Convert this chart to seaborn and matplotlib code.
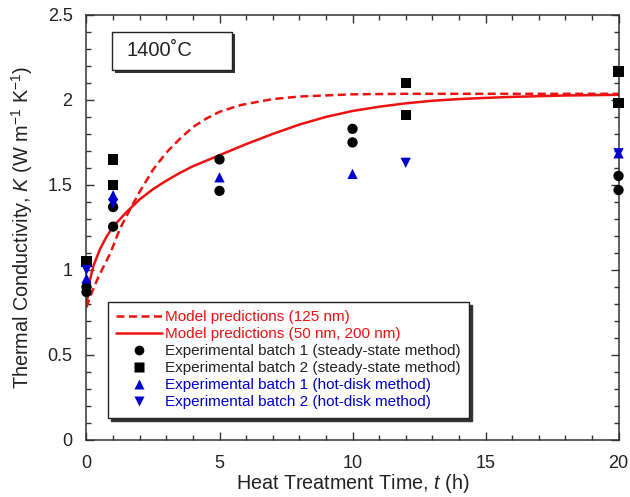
import numpy as np
import pandas as pd
import matplotlib
matplotlib.use("Agg")
import matplotlib.pyplot as plt
from matplotlib.lines import Line2D
from matplotlib.patches import Rectangle
from matplotlib.ticker import MultipleLocator
import seaborn as sns

# Model predictions
t_model_125 = [0, 0.15, 0.45, 0.9, 1.25, 1.65, 2.0, 2.5, 3.0, 3.5, 4.0, 4.5, 5.0, 5.8, 7, 8, 10, 12, 15, 20]
k_model_125 = [0.78, 0.85, 0.96, 1.10, 1.24, 1.36, 1.46, 1.59, 1.69, 1.77, 1.84, 1.89, 1.93, 1.97, 2.005, 2.02,
               2.033, 2.036, 2.036, 2.036]

t_model_50_200 = [0, 0.1, 0.25, 0.5, 0.75, 1, 1.5, 2, 2.5, 3, 3.5, 4, 5, 6, 7, 8, 9, 10, 11, 12, 13, 14, 15,
                  16, 17, 18, 19, 20]
k_model_50_200 = [0.79, 0.92, 1.02, 1.12, 1.195, 1.255, 1.34, 1.415, 1.475, 1.525, 1.57, 1.61, 1.675, 1.74, 1.80,
                  1.855, 1.90, 1.935, 1.96, 1.98, 1.995, 2.005, 2.012, 2.018, 2.022, 2.026, 2.028, 2.03]

# Experimental data
t_b1_ss = [0, 0, 1, 1, 5, 5, 10, 10, 20, 20]
k_b1_ss = [0.90, 0.87, 1.37, 1.255, 1.65, 1.465, 1.83, 1.75, 1.553, 1.47]

t_b2_ss = [0, 1, 1, 12, 12, 20, 20]
k_b2_ss = [1.049, 1.65, 1.50, 2.10, 1.91, 2.167, 1.98]

t_b1_hd = [0, 1, 5, 10, 20]
k_b1_hd = [0.95, 1.44, 1.545, 1.565, 1.686]

t_b2_hd = [0, 1, 12, 20]
k_b2_hd = [1.0, 1.39, 1.63, 1.686]

labels = [
    "Model predictions (125 nm)",
    "Model predictions (50 nm, 200 nm)",
    "Experimental batch 1 (steady-state method)",
    "Experimental batch 2 (steady-state method)",
    "Experimental batch 1 (hot-disk method)",
    "Experimental batch 2 (hot-disk method)",
]

RED = "#ee1111"
BLUE = "#0000cc"
BLACK = "#000000"
INK = "#222222"

sns.set_style("ticks")
plt.rcParams["font.family"] = ["Liberation Sans", "DejaVu Sans"]
plt.rcParams["mathtext.fontset"] = "custom"
plt.rcParams["mathtext.rm"] = "Liberation Sans"
plt.rcParams["mathtext.it"] = "Liberation Sans:italic"

fig = plt.figure(figsize=(6.3, 4.97), dpi=100)
ax = fig.add_axes([0.1373, 0.1147, 0.8445, 0.8553])

df125 = pd.DataFrame({"t": t_model_125, "k": k_model_125})
df50 = pd.DataFrame({"t": t_model_50_200, "k": k_model_50_200})
dash = (0, (3.2, 1.8))
sns.lineplot(data=df125, x="t", y="k", ax=ax, color=RED, lw=1.8, linestyle=dash, sort=False)
sns.lineplot(data=df50, x="t", y="k", ax=ax, color=RED, lw=1.8, sort=False)

ms = 55
sns.scatterplot(x=t_b2_ss, y=k_b2_ss, ax=ax, marker="s", color=BLACK, s=ms, edgecolor="none", zorder=3, clip_on=False)
sns.scatterplot(x=t_b1_ss, y=k_b1_ss, ax=ax, marker="o", color=BLACK, s=ms, edgecolor="none", zorder=3, clip_on=False)
sns.scatterplot(x=t_b1_hd, y=k_b1_hd, ax=ax, marker="^", color=BLUE, s=ms, edgecolor="none", zorder=4, clip_on=False)
sns.scatterplot(x=t_b2_hd, y=k_b2_hd, ax=ax, marker="v", color=BLUE, s=ms, edgecolor="none", zorder=4, clip_on=False)

ax.set_xlim(0, 20)
ax.set_ylim(0, 2.5)
ax.xaxis.set_major_locator(MultipleLocator(5))
ax.xaxis.set_minor_locator(MultipleLocator(1))
ax.yaxis.set_minor_locator(MultipleLocator(0.1))
ax.set_yticks([0, 0.5, 1, 1.5, 2, 2.5])
ax.set_yticklabels(["0", "0.5", "1", "1.5", "2", "2.5"])
ax.tick_params(which="both", direction="in", top=True, right=True, colors="#333333",
               labelcolor=INK, labelsize=13)
ax.tick_params(which="major", length=6, width=1)
ax.tick_params(which="minor", length=3.5, width=1)
ax.tick_params(axis="x", pad=11)
ax.tick_params(axis="y", pad=10)
for sp in ax.spines.values():
    sp.set_color("#333333")
    sp.set_linewidth(1.1)

ax.set_xlabel("Heat Treatment Time, $t$ (h)", fontsize=14.2, color=INK, labelpad=0)
ax.set_ylabel("Thermal Conductivity, $K$ (W m$^{-1}$ K$^{-1}$)", fontsize=14.3, color=INK, labelpad=9)

# Temperature tag in a shadowed box
shadow = Rectangle((1.08, 2.16), 4.5, 0.226, facecolor="#333333", edgecolor="none", zorder=5)
box = Rectangle((0.96, 2.176), 4.5, 0.226, facecolor="white", edgecolor=INK, lw=1.0, zorder=6)
ax.add_patch(shadow)
ax.add_patch(box)
ax.text(1.5, 2.289, "1400˚C", fontsize=14.5, color=INK, va="center", ha="left", zorder=7)

handles = [
    Line2D([], [], color=RED, lw=1.8, linestyle=dash),
    Line2D([], [], color=RED, lw=1.8),
    Line2D([], [], color=BLACK, marker="o", ls="none", ms=7, mec="none"),
    Line2D([], [], color=BLACK, marker="s", ls="none", ms=6.5, mec="none"),
    Line2D([], [], color=BLUE, marker="^", ls="none", ms=7, mec="none"),
    Line2D([], [], color=BLUE, marker="v", ls="none", ms=7, mec="none"),
]
leg = ax.legend(handles, labels, loc="lower left", bbox_to_anchor=(0.040, 0.052), borderaxespad=0,
                fontsize=11, frameon=True, fancybox=False, shadow={"color": "#333333", "alpha": 1},
                handlelength=3.0, handletextpad=0.2, labelspacing=0.2, borderpad=0.55,
                labelcolor=[RED, RED, INK, INK, BLUE, BLUE])
leg.get_frame().set_edgecolor(INK)
leg.get_frame().set_linewidth(1.0)
leg.get_frame().set_alpha(1)

fig.savefig("out.png", dpi=100)
